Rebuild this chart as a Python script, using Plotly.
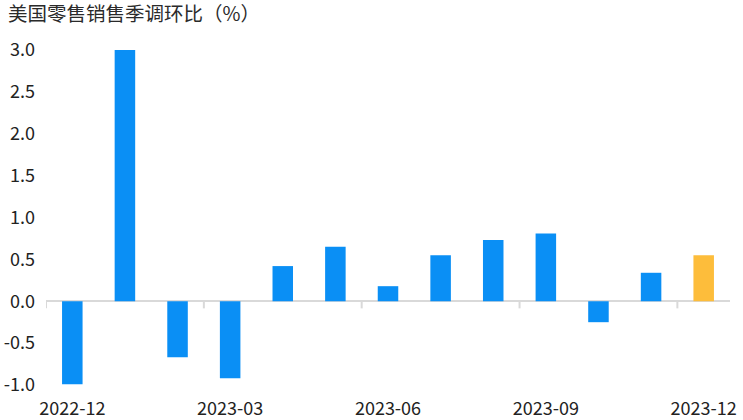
import plotly.graph_objects as go

months = ["2022-12", "2023-01", "2023-02", "2023-03", "2023-04", "2023-05", "2023-06",
          "2023-07", "2023-08", "2023-09", "2023-10", "2023-11", "2023-12"]
values = [-0.99, 3.0, -0.67, -0.92, 0.42, 0.65, 0.18, 0.55, 0.73, 0.81, -0.25, 0.34, 0.55]
colors = ["#0A8FF5"] * 12 + ["#FDBD3B"]
xtick_labels = ["2022-12", "2023-03", "2023-06", "2023-09", "2023-12"]
ytick_vals = [-1.0, -0.5, 0.0, 0.5, 1.0, 1.5, 2.0, 2.5, 3.0]

xs = list(range(len(months)))
font = "Noto Sans CJK SC"

fig = go.Figure(go.Bar(x=xs, y=values, marker=dict(color=colors, line=dict(width=0)),
                       width=0.39))

shapes = []
for b in [-0.5, 2.5, 5.5, 8.5, 11.5]:
    shapes.append(dict(type="line", xref="x", yref="y", x0=b, x1=b, y0=0, y1=-0.085,
                       line=dict(color="#d9d9d9", width=2), layer="below"))

fig.update_layout(
    width=743, height=420,
    margin=dict(l=46, r=13, t=50, b=35, autoexpand=False),
    plot_bgcolor="white", paper_bgcolor="white",
    showlegend=False,
    shapes=shapes,
    title=dict(text="美国零售销售季调环比（%）", x=8 / 743, xanchor="left", xref="container",
               y=1 - 14 / 420, yref="container", yanchor="middle",
               font=dict(family=font, size=19.5, color="#2a2a2a"), automargin=False),
    font=dict(family=font, size=18, color="#222"),
    xaxis=dict(range=[-0.5, 12.5], tickmode="array",
               tickvals=[xs[months.index(m)] for m in xtick_labels], ticktext=xtick_labels,
               showgrid=False, zeroline=False, showline=False, ticks="",
               ticklabelstandoff=11, tickfont=dict(size=18), automargin=False),
    yaxis=dict(range=[-1.0, 3.0], tickmode="array", tickvals=ytick_vals,
               ticktext=[f"{v:.1f}" for v in ytick_vals],
               showgrid=False, zeroline=True, zerolinecolor="#d9d9d9", zerolinewidth=2,
               showline=False, ticks="", ticklabelstandoff=10, tickfont=dict(size=18),
               automargin=False),
    bargap=0.61,
)

fig.write_html("out.html", config={"displayModeBar": False},
               post_script="document.body.style.margin='0';")
